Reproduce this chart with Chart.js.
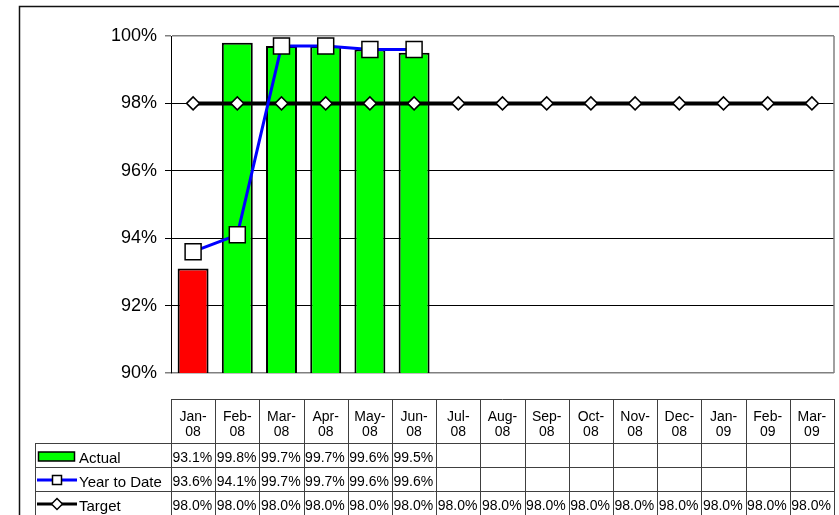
<!DOCTYPE html>
<html>
<head>
<meta charset="utf-8">
<script src="https://cdn.jsdelivr.net/npm/chart.js@4.4.0/dist/chart.umd.min.js"></script>
<style>
  body { margin: 0; background: #fff; overflow: hidden; }
  canvas { display: block; }
</style>
</head>
<body>
<canvas id="myChart" width="839" height="515"></canvas>
<script>
// data
const months = ['Jan-08', 'Feb-08', 'Mar-08', 'Apr-08', 'May-08', 'Jun-08', 'Jul-08', 'Aug-08',
  'Sep-08', 'Oct-08', 'Nov-08', 'Dec-08', 'Jan-09', 'Feb-09', 'Mar-09'];
const actual = [93.1, 99.8, 99.7, 99.7, 99.6, 99.5, null, null, null, null, null, null, null, null, null];
const yearToDate = [93.6, 94.1, 99.7, 99.7, 99.6, 99.6, null, null, null, null, null, null, null, null, null];
const target = [98, 98, 98, 98, 98, 98, 98, 98, 98, 98, 98, 98, 98, 98, 98];
const yTicks = [90, 92, 94, 96, 98, 100];

const FONT = '"Liberation Sans", Arial, sans-serif';

// bars below target are red
const barColors = actual.map((v, i) => (v !== null && v < target[i]) ? '#ff0000' : '#00ff00');

function fmt(v) {
  return v === null ? '' : v.toFixed(1) + '%';
}

// frame + data table under the plot
const tablePlugin = {
  id: 'dataTable',
  beforeDraw(chart) {
    const c = chart.ctx;
    c.save();
    c.fillStyle = '#fff';
    c.fillRect(0, 0, chart.width, chart.height);
    c.strokeStyle = '#111';
    c.lineWidth = 1.5;
    c.beginPath();
    c.moveTo(19.5, 520);
    c.lineTo(19.5, 6.5);
    c.lineTo(845, 6.5);
    c.stroke();
    c.restore();
  },
  afterDraw(chart) {
    const c = chart.ctx;
    const area = chart.chartArea;
    const n = months.length;
    const w = (area.right - area.left) / n;
    const headTop = 399, rowTop = 443, rowH = 24, bottom = 515;
    const legLeft = 35;

    c.save();
    // plot right border
    c.strokeStyle = '#808080';
    c.lineWidth = 1.5;
    c.beginPath();
    c.moveTo(area.right, area.top);
    c.lineTo(area.right, area.bottom);
    c.stroke();

    // grid of the table
    c.strokeStyle = '#404040';
    c.lineWidth = 1;
    c.beginPath();
    c.moveTo(area.left, headTop + 0.5);
    c.lineTo(area.right, headTop + 0.5);
    for (let r = 0; r < 3; r++) {
      const y = Math.round(rowTop + r * rowH) + 0.5;
      c.moveTo(legLeft, y);
      c.lineTo(area.right, y);
    }
    for (let i = 0; i <= n; i++) {
      const x = Math.round(area.left + i * w) + 0.5;
      c.moveTo(x, headTop);
      c.lineTo(x, bottom + 2);
    }
    c.moveTo(legLeft + 0.5, rowTop);
    c.lineTo(legLeft + 0.5, bottom + 2);
    c.stroke();

    // header labels
    c.fillStyle = '#000';
    c.textAlign = 'center';
    c.textBaseline = 'middle';
    c.font = '14px ' + FONT;
    months.forEach((m, i) => {
      const x = chart.scales.x.getPixelForValue(i);
      const parts = m.split('-');
      c.fillText(parts[0] + '-', x, 417);
      c.fillText(parts[1], x, 432);
    });

    // values
    const rows = [actual, yearToDate, target];
    c.textAlign = 'left';
    rows.forEach((arr, r) => {
      const y = rowTop + r * rowH + 15;
      arr.forEach((v, i) => {
        const x = area.left + i * w + 1.5;
        c.fillText(fmt(v), x, y, w - 2);
      });
    });

    // legend keys
    const ky = [rowTop + 14, rowTop + rowH + 13, rowTop + 2 * rowH + 13];
    c.fillStyle = '#00ff00';
    c.strokeStyle = '#000';
    c.lineWidth = 1.5;
    c.fillRect(38.5, ky[0] - 5, 36, 9);
    c.strokeRect(38.5, ky[0] - 5, 36, 9);

    c.strokeStyle = '#0000ff';
    c.lineWidth = 3;
    c.beginPath();
    c.moveTo(37, ky[1]);
    c.lineTo(77, ky[1]);
    c.stroke();
    c.fillStyle = '#fff';
    c.strokeStyle = '#000';
    c.lineWidth = 1.5;
    c.fillRect(52.5, ky[1] - 4.5, 9, 9);
    c.strokeRect(52.5, ky[1] - 4.5, 9, 9);

    c.strokeStyle = '#000';
    c.lineWidth = 3;
    c.beginPath();
    c.moveTo(37, ky[2]);
    c.lineTo(77, ky[2]);
    c.stroke();
    c.lineWidth = 1.5;
    c.beginPath();
    c.moveTo(51.5, ky[2]);
    c.lineTo(57, ky[2] - 5.5);
    c.lineTo(62.5, ky[2]);
    c.lineTo(57, ky[2] + 5.5);
    c.closePath();
    c.fill();
    c.stroke();

    c.fillStyle = '#000';
    c.font = '15px ' + FONT;
    c.fillText('Actual', 79, rowTop + 16);
    c.fillText('Year to Date', 79, rowTop + rowH + 16);
    c.fillText('Target', 79, rowTop + 2 * rowH + 16);
    c.restore();
  }
};

var myChart = new Chart(document.getElementById('myChart'), {
  type: 'bar',
  data: {
    labels: months,
    datasets: [
      {
        type: 'line',
        label: 'Target',
        data: target,
        borderColor: '#000',
        borderWidth: 4,
        pointStyle: 'rectRot',
        pointRadius: 6.5,
        pointBorderWidth: 1.5,
        pointBackgroundColor: '#fff',
        pointBorderColor: '#000',
        order: 1
      },
      {
        type: 'line',
        label: 'Year to Date',
        data: yearToDate,
        borderColor: '#0000ff',
        borderWidth: 3,
        pointStyle: 'rect',
        pointRadius: 11.3,
        pointBorderWidth: 1.5,
        pointBackgroundColor: '#fff',
        pointBorderColor: '#000',
        order: 0
      },
      {
        label: 'Actual',
        data: actual,
        backgroundColor: barColors,
        borderColor: '#000',
        borderWidth: 2,
        borderSkipped: false,
        categoryPercentage: 1,
        barPercentage: 0.7,
        order: 2
      }
    ]
  },
  options: {
    responsive: false,
    animation: false,
    layout: { autoPadding: false, padding: { left: 0, top: 36, right: 5, bottom: 142 } },
    plugins: {
      legend: { display: false },
      tooltip: { enabled: false }
    },
    scales: {
      x: { display: false, offset: true },
      y: {
        min: 90,
        max: 100,
        afterFit: (scale) => { scale.width = 171; },
        afterBuildTicks: (scale) => { scale.ticks = yTicks.map(v => ({ value: v })); },
        ticks: {
          color: '#000',
          padding: 8,
          font: { family: FONT, size: 18 },
          callback: (v) => v + '%'
        },
        grid: {
          tickLength: 6,
          lineWidth: (ctx) => (ctx.tick && (ctx.tick.value === 100 || ctx.tick.value === 90)) ? 1.5 : 1,
          color: (ctx) => (ctx.tick && (ctx.tick.value === 100 || ctx.tick.value === 90)) ? '#808080' : '#000'
        },
        border: { color: '#000', width: 1 }
      }
    }
  },
  plugins: [tablePlugin]
});
</script>
</body>
</html>
